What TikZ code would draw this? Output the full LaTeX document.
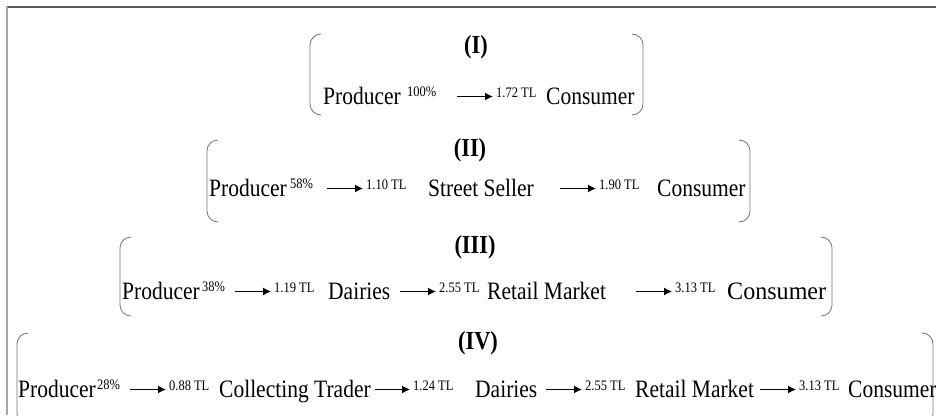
\documentclass[tikz,border=0pt]{standalone}
\usepackage{fontspec}
\setmainfont[FakeStretch=0.86]{Liberation Serif}
\usetikzlibrary{arrows.meta}
\tikzset{
  lbl/.style={inner sep=0pt, anchor=base west, font=\fontsize{25}{28}\selectfont},
  sml/.style={inner sep=0pt, anchor=base west, font=\fontsize{14.5}{16}\selectfont},
  ttl/.style={inner sep=0pt, font=\bfseries\fontsize{26}{28}\selectfont},
  brk/.style={draw=black!55, line width=0.8pt, rounded corners=11pt},
  arr/.style={-{Latex[length=8pt,width=8pt]}, line width=1.3pt},
  frametop/.style={draw=black!65, line width=1.6pt},
  frameleft/.style={draw=black!35, line width=2pt},
}
\begin{document}
\begin{tikzpicture}[x=1pt,y=-1pt]
\useasboundingbox (0,0) rectangle (936,415);
\clip (0,0) rectangle (936,415);
% frame
\coordinate (ftl) at (6.5,7);
\coordinate (ftr) at (936,7);
\coordinate (fbl) at (6.5,415);
\draw[frametop] (ftl) -- (ftr);
\draw[frameleft] (ftl) -- (fbl);

% ---------- Row I ----------
\draw[brk] (321,34) -- (310,34) -- (310,115) -- (321,115);
\draw[brk] (632,34) -- (643,34) -- (643,115) -- (632,115);
\node[ttl] (t1) at (476,47) {(I)};
\node[lbl] (r1a) at (323,104) {Producer};
\node[sml] (r1p) at (407,96) {100\%};
\coordinate (r1s1) at (457,96.5);
\node[sml] (r1v1) at (496,97) {1.72 TL};
\node[lbl] (r1b) at (546,104) {Consumer};
\draw[arr] (r1s1) -- ([xshift=-3pt]r1s1 -| r1v1.west);

% ---------- Row II ----------
\draw[brk] (218,140) -- (207,140) -- (207,222) -- (218,222);
\draw[brk] (739,140) -- (750,140) -- (750,222) -- (739,222);
\node[ttl] (t2) at (470,150) {(II)};
\node[lbl] (r2a) at (209,196) {Producer};
\node[sml] (r2p) at (290,188) {58\%};
\coordinate (r2s1) at (327,188.5);
\node[sml] (r2v1) at (366,189) {1.10 TL};
\node[lbl] (r2b) at (428,196) {Street Seller};
\coordinate (r2s2) at (560,188.5);
\node[sml] (r2v2) at (599,189) {1.90 TL};
\node[lbl] (r2c) at (657,196) {Consumer};
\draw[arr] (r2s1) -- ([xshift=-3pt]r2s1 -| r2v1.west);
\draw[arr] (r2s2) -- ([xshift=-3pt]r2s2 -| r2v2.west);

% ---------- Row III ----------
\draw[brk] (131,237) -- (120,237) -- (120,316) -- (131,316);
\draw[brk] (821,237) -- (832,237) -- (832,316) -- (821,316);
\node[ttl] (t3) at (475,247) {(III)};
\node[lbl] (r3a) at (122,299) {Producer};
\node[sml] (r3p) at (202,291) {38\%};
\coordinate (r3s1) at (235,291.5);
\node[sml] (r3v1) at (274,292) {1.19 TL};
\node[lbl] (r3b) at (328,299) {Dairies};
\coordinate (r3s2) at (400,291.5);
\node[sml] (r3v2) at (439,292) {2.55 TL};
\node[lbl] (r3c) at (487,299) {Retail Market};
\coordinate (r3s3) at (636,291.5);
\node[sml] (r3v3) at (675,292) {3.13 TL};
\node[lbl] (r3d) at (727,299) {\scalebox{1.12}[1]{Consumer}};
\draw[arr] (r3s1) -- ([xshift=-3pt]r3s1 -| r3v1.west);
\draw[arr] (r3s2) -- ([xshift=-3pt]r3s2 -| r3v2.west);
\draw[arr] (r3s3) -- ([xshift=-3pt]r3s3 -| r3v3.west);

% ---------- Row IV ----------
\draw[brk] (28,333) -- (17,333) -- (17,425) -- (28,425);
\draw[brk] (922,333) -- (933,333) -- (933,425) -- (922,425);
\node[ttl] (t4) at (478,343) {(IV)};
\node[lbl] (r4a) at (18,397) {Producer};
\node[sml] (r4p) at (97,389) {28\%};
\coordinate (r4s1) at (130,389.5);
\node[sml] (r4v1) at (169,390) {0.88 TL};
\node[lbl] (r4b) at (219,397) {Collecting Trader};
\coordinate (r4s2) at (375,389.5);
\node[sml] (r4v2) at (413,390) {1.24 TL};
\node[lbl] (r4c) at (475,397) {Dairies};
\coordinate (r4s3) at (546,389.5);
\node[sml] (r4v3) at (585,390) {2.55 TL};
\node[lbl] (r4d) at (635,397) {Retail Market};
\coordinate (r4s4) at (760,389.5);
\node[sml] (r4v4) at (799,390) {3.13 TL};
\node[lbl] (r4e) at (848,397) {Consumer};
\draw[arr] (r4s1) -- ([xshift=-3pt]r4s1 -| r4v1.west);
\draw[arr] (r4s2) -- ([xshift=-3pt]r4s2 -| r4v2.west);
\draw[arr] (r4s3) -- ([xshift=-3pt]r4s3 -| r4v3.west);
\draw[arr] (r4s4) -- ([xshift=-3pt]r4s4 -| r4v4.west);
\end{tikzpicture}
\end{document}
